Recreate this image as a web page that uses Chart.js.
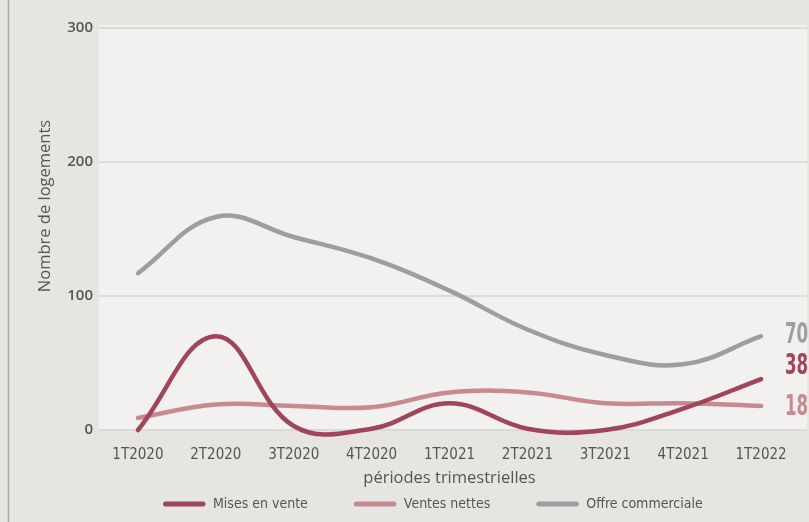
<!DOCTYPE html>
<html>
<head>
<meta charset="utf-8">
<script src="https://cdn.jsdelivr.net/npm/chart.js@4/dist/chart.umd.min.js"></script>
<style>
  html, body { margin: 0; padding: 0; background: #e6e5e2; }
  #wrap { width: 809px; height: 522px; position: relative; }
</style>
</head>
<body>
<div id="wrap"><canvas id="c" width="809" height="522"></canvas></div>
<script>
// Périodes trimestrielles
const categories = ['1T2020', '2T2020', '3T2020', '4T2020', '1T2021', '2T2021', '3T2021', '4T2021', '1T2022'];

// Nombre de logements par trimestre
const misesEnVente     = [0, 70, 3, 1, 20, 1, 0, 16, 38];
const ventesNettes     = [9, 19, 18, 17, 28, 28, 20, 20, 18];
const offreCommerciale = [117, 159, 144, 128, 104, 75, 56, 49, 70];

const yTicks = [0, 100, 200, 300];

const COLORS = {
  mises: '#a0465a',
  ventes: '#c78a8e',
  offre: '#9c9e9f',
  outer: '#e6e5e2',
  plot: '#f2f1ef',
  grid: '#d4d5d3',
  text: '#555555'
};

const condensed = "'DejaVu Sans Condensed', 'Open Sans', sans-serif";
const PLOT_RIGHT = 807;

// Fond général, zone de tracé plus claire, filet vertical à gauche et grille
const backgroundPlugin = {
  id: 'backgrounds',
  beforeDraw(chart) {
    const { ctx, chartArea, scales } = chart;
    ctx.save();
    ctx.fillStyle = COLORS.outer;
    ctx.fillRect(0, 0, chart.width, chart.height);
    ctx.fillStyle = COLORS.plot;
    ctx.fillRect(chartArea.left, chartArea.top - 3, PLOT_RIGHT - chartArea.left, chartArea.bottom - chartArea.top + 3);
    ctx.strokeStyle = '#aaaaaa';
    ctx.lineWidth = 1.5;
    ctx.beginPath();
    ctx.moveTo(8.5, 0);
    ctx.lineTo(8.5, chart.height);
    ctx.stroke();
    ctx.strokeStyle = COLORS.grid;
    ctx.lineWidth = 1.6;
    yTicks.forEach(v => {
      const y = scales.y.getPixelForValue(v);
      ctx.beginPath();
      ctx.moveTo(chartArea.left, y);
      ctx.lineTo(PLOT_RIGHT, y);
      ctx.stroke();
    });
    ctx.restore();
  }
};

// Titre vertical de l'axe des ordonnées
const yTitlePlugin = {
  id: 'yTitle',
  afterDraw(chart) {
    const { ctx } = chart;
    ctx.save();
    ctx.translate(45, 206);
    ctx.rotate(-Math.PI / 2);
    ctx.fillStyle = COLORS.text;
    ctx.font = "16.5px 'Open Sans', sans-serif";
    ctx.textAlign = 'center';
    ctx.textBaseline = 'middle';
    ctx.fillText('Nombre de logements', 0, 0);
    ctx.restore();
  }
};

// Valeur du dernier trimestre inscrite au bout de chaque courbe
const endLabelsPlugin = {
  id: 'endLabels',
  afterDatasetsDraw(chart) {
    const { ctx, scales } = chart;
    chart.data.datasets.forEach((ds) => {
      const last = ds.data.length - 1;
      const v = ds.data[last];
      const x = scales.x.getPixelForValue(last) + 24;
      const y = scales.y.getPixelForValue(v) + (ds.labelShift || 0);
      ctx.save();
      ctx.translate(x, y);
      ctx.scale(0.66, 1);
      ctx.font = "bold 28px " + condensed;
      ctx.textAlign = 'left';
      ctx.textBaseline = 'middle';
      ctx.fillStyle = ds.borderColor;
      ctx.fillText(String(v), 0, 0);
      ctx.restore();
    });
  }
};

// Légende en bas : trait arrondi puis libellé
const legendPlugin = {
  id: 'bottomLegend',
  afterDraw(chart) {
    const { ctx } = chart;
    const y = 504;
    let x = 163;
    ctx.save();
    ctx.font = "14px " + condensed;
    ctx.textBaseline = 'middle';
    ctx.lineCap = 'round';
    chart.data.datasets.forEach((ds) => {
      ctx.strokeStyle = ds.borderColor;
      ctx.lineWidth = 5;
      ctx.beginPath();
      ctx.moveTo(x + 2.5, y);
      ctx.lineTo(x + 40, y);
      ctx.stroke();
      ctx.fillStyle = COLORS.text;
      ctx.fillText(ds.label, x + 50, y);
      x += 50 + ctx.measureText(ds.label).width + 46;
    });
    ctx.restore();
  }
};

new Chart(document.getElementById('c'), {
  type: 'line',
  data: {
    labels: categories,
    datasets: [
      { label: 'Mises en vente', data: misesEnVente, borderColor: COLORS.mises, backgroundColor: COLORS.mises, labelShift: -12 },
      { label: 'Ventes nettes', data: ventesNettes, borderColor: COLORS.ventes, backgroundColor: COLORS.ventes, labelShift: 2 },
      { label: 'Offre commerciale', data: offreCommerciale, borderColor: COLORS.offre, backgroundColor: COLORS.offre, labelShift: 0 }
    ].map(d => Object.assign(d, {
      borderWidth: 4.5,
      tension: 0.4,
      capBezierPoints: false,
      pointRadius: 0,
      pointHoverRadius: 0,
      borderCapStyle: 'round',
      borderJoinStyle: 'round',
      clip: false,
      fill: false
    }))
  },
  options: {
    responsive: false,
    animation: false,
    events: [],
    layout: { padding: { top: 28, right: 9, left: 0, bottom: 0 } },
    scales: {
      x: {
        offset: true,
        afterFit(scale) { scale.height = 92; },
        grid: { display: false },
        border: { display: false },
        ticks: {
          color: COLORS.text,
          font: { family: condensed, size: 15 },
          padding: 8,
          maxRotation: 0
        },
        title: {
          display: true,
          text: 'périodes trimestrielles',
          color: COLORS.text,
          font: { family: "'Open Sans', sans-serif", size: 16.5 },
          padding: { top: 0, bottom: 34 }
        }
      },
      y: {
        min: 0,
        max: 300,
        afterBuildTicks(scale) { scale.ticks = yTicks.map(v => ({ value: v })); },
        afterFit(scale) { scale.width = 99; },
        grid: { display: false, drawTicks: false },
        border: { display: false },
        ticks: {
          color: COLORS.text,
          font: { family: "'Open Sans', sans-serif", size: 15, weight: '600' },
          padding: 6
        }
      }
    },
    plugins: {
      legend: { display: false },
      tooltip: { enabled: false }
    }
  },
  plugins: [backgroundPlugin, yTitlePlugin, endLabelsPlugin, legendPlugin]
});
</script>
</body>
</html>
